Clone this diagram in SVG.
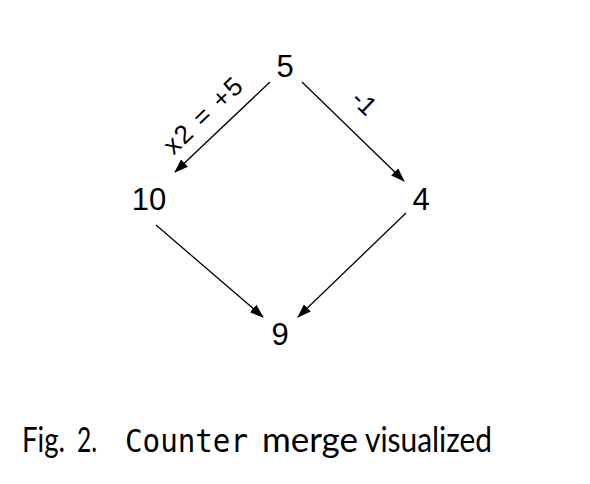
<svg xmlns="http://www.w3.org/2000/svg" width="590" height="484" viewBox="0 0 590 484">
<style>
.node{font-family:"Liberation Sans",Arial,sans-serif;font-size:31px;fill:#000;text-anchor:middle}
.lbl{font-family:"Liberation Sans",Arial,sans-serif;font-size:26px;fill:#000;text-anchor:middle}
.cap{font-family:Lato,"Liberation Sans",Arial,sans-serif;font-size:34px;fill:#000}
.mono{font-family:"DejaVu Sans Mono","Liberation Mono",monospace;font-size:32px;fill:#000}
.edge{stroke:#000;stroke-width:1.3;fill:none;marker-end:url(#ah)}
</style>
<defs>
<marker id="ah" markerWidth="14" markerHeight="10" refX="13" refY="5" orient="auto" markerUnits="userSpaceOnUse">
<path d="M0,0 L14,5 L0,10 z" fill="#000"/>
</marker>
</defs>
<rect width="590" height="484" fill="#fff"/>
<g id="connectors">
<line class="edge" x1="270" y1="82" x2="175" y2="172"/>
<line class="edge" x1="302" y1="82" x2="404" y2="181"/>
<line class="edge" x1="156" y1="225" x2="263" y2="317"/>
<line class="edge" x1="406" y1="213" x2="298" y2="317"/>
<text class="lbl" transform="translate(209,122) rotate(-43.5)" textLength="98" lengthAdjust="spacing">x2 = +5</text>
<text class="lbl" transform="translate(358,109) rotate(44)">-1</text>
</g>
<g id="n5"><text class="node" x="285" y="77">5</text></g>
<g id="n10"><text class="node" x="149" y="210">10</text></g>
<g id="n4"><text class="node" x="421" y="210">4</text></g>
<g id="n9"><text class="node" x="280" y="345">9</text></g>
<g id="caption">
<text class="cap" x="22" y="452" textLength="43" lengthAdjust="spacingAndGlyphs">Fig.</text>
<text class="cap" x="77" y="452" textLength="20" lengthAdjust="spacingAndGlyphs">2.</text>
<text class="mono" x="125" y="452" textLength="123" lengthAdjust="spacingAndGlyphs">Counter</text>
<text class="cap" x="262" y="452" textLength="96" lengthAdjust="spacingAndGlyphs">merge</text>
<text class="cap" x="365" y="452" textLength="127" lengthAdjust="spacingAndGlyphs">visualized</text>
</g>
</svg>
